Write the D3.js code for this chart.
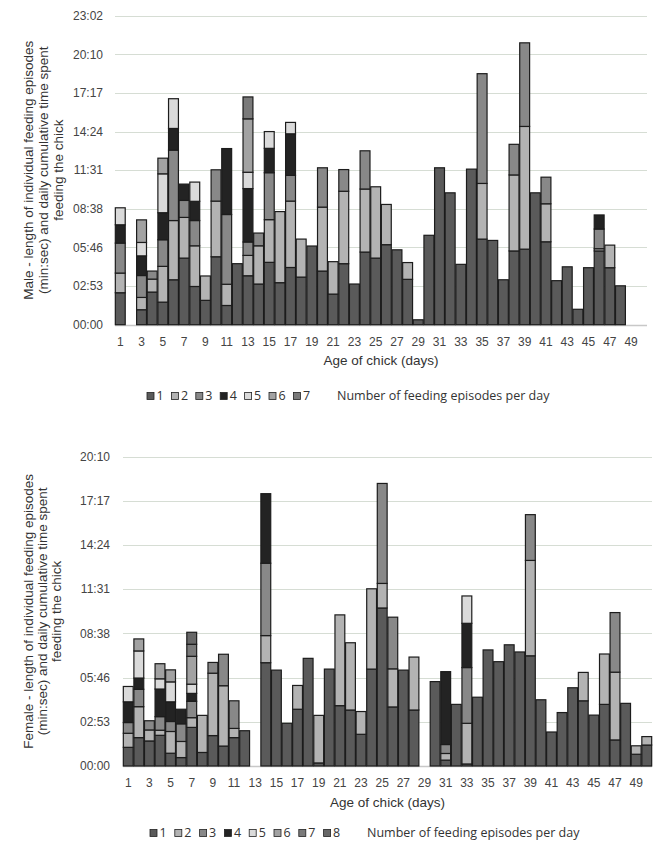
<!DOCTYPE html>
<html>
<head>
<meta charset="utf-8">
<script src="https://cdn.jsdelivr.net/npm/d3@7"></script>
<style>
  body { margin: 0; background: #fff; }
  svg { display: block; font-family: "Liberation Sans", Arial, sans-serif; }
</style>
</head>
<body>
<svg id="chart" width="653" height="845"></svg>
<script>
// days of chick age (categories on the x axis)
const days = [1,2,3,4,5,6,7,8,9,10,11,12,13,14,15,16,17,18,19,20,21,22,23,24,25,
              26,27,28,29,30,31,32,33,34,35,36,37,38,39,40,41,42,43,44,45,46,47,48,49,50];
const dayLabels = [1,3,5,7,9,11,13,15,17,19,21,23,25,27,29,31,33,35,37,39,41,43,45,47,49];

// male: length (seconds) of feeding episode n, per day
const maleEp1 = [143,0,67,146,101,201,298,171,109,304,86,273,219,182,279,188,256,213,352,240,
                 137,273,182,325,298,358,335,203,22,400,702,590,270,696,383,377,201,330,338,590,
                 371,197,259,69,255,330,255,174,0,0];
const maleEp2 = [88,0,55,58,160,265,182,182,109,249,95,0,91,171,191,318,297,170,0,286,
                 145,324,0,282,319,180,0,75,0,0,0,0,0,0,249,0,0,340,549,0,
                 170,0,0,0,0,10,101,0,0,0];
const maleEp3 = [134,0,98,36,119,315,76,113,0,140,312,0,60,57,210,0,115,0,0,176,
                 0,97,0,171,0,0,0,0,0,0,0,0,0,0,491,0,0,137,374,0,
                 119,0,0,0,0,88,0,0,0,0];
const maleEp4 = [82,0,88,0,121,97,73,86,0,0,295,0,239,0,109,0,186,0,0,0,
                 0,0,0,0,0,0,0,0,0,0,0,0,0,0,0,0,0,0,0,0,
                 0,0,0,0,0,63,0,0,0,0];
const maleEp5 = [76,0,60,0,174,133,0,86,0,0,0,0,73,0,75,0,51,0,0,0,
                 0,0,0,0,0,0,0,0,0,0,0,0,0,0,0,0,0,0,0,0,
                 0,0,0,0,0,0,0,0,0,0];
const maleEp6 = [0,0,101,0,70,0,0,0,0,0,0,0,239,0,0,0,0,0,0,0,
                 0,0,0,0,0,0,0,0,0,0,0,0,0,0,0,0,0,0,0,0,
                 0,0,0,0,0,0,0,0,0,0];
const maleEp7 = [0,0,0,0,0,0,0,0,0,0,0,0,98,0,0,0,0,0,0,0,
                 0,0,0,0,0,0,0,0,0,0,0,0,0,0,0,0,0,0,0,0,
                 0,0,0,0,0,0,0,0,0,0];

// female: length (seconds) of feeding episode n, per day
const femEp1 = [73,111,98,120,50,33,151,53,119,78,111,138,0,404,375,167,222,421,12,379,
                236,219,124,379,618,231,375,219,0,330,23,241,8,269,454,408,474,446,431,259,
                133,209,306,255,199,241,102,245,46,82];
const femEp2 = [55,121,43,20,85,63,38,145,244,236,36,0,0,106,0,0,93,0,186,0,
                355,263,89,314,96,149,0,207,0,0,26,0,159,0,0,0,0,0,373,0,
                0,0,0,111,0,197,265,0,33,33];
const femEp3 = [42,68,36,53,39,69,64,0,42,123,108,0,0,283,0,0,0,0,0,0,
                0,0,0,0,391,202,0,0,0,0,35,0,218,0,0,0,0,0,179,0,
                0,0,0,0,0,0,233,0,0,0];
const femEp4 = [81,44,0,108,77,57,31,0,0,0,0,0,0,272,0,0,0,0,0,0,
                0,0,0,0,0,0,0,0,0,0,285,0,173,0,0,0,0,0,0,0,
                0,0,0,0,0,0,0,0,0,0];
const femEp5 = [60,106,0,40,78,0,36,0,0,0,0,0,0,0,0,0,0,0,0,0,
                0,0,0,0,0,0,0,0,0,0,0,0,107,0,0,0,0,0,0,0,
                0,0,0,0,0,0,0,0,0,0];
const femEp6 = [0,47,0,59,47,0,109,0,0,0,0,0,0,0,0,0,0,0,0,0,
                0,0,0,0,0,0,0,0,0,0,0,0,0,0,0,0,0,0,0,0,
                0,0,0,0,0,0,0,0,0,0];
const femEp7 = [0,0,0,0,0,0,47,0,0,0,0,0,0,0,0,0,0,0,0,0,
                0,0,0,0,0,0,0,0,0,0,0,0,0,0,0,0,0,0,0,0,
                0,0,0,0,0,0,0,0,0,0];
const femEp8 = [0,0,0,0,0,0,47,0,0,0,0,0,0,0,0,0,0,0,0,0,
                0,0,0,0,0,0,0,0,0,0,0,0,0,0,0,0,0,0,0,0,
                0,0,0,0,0,0,0,0,0,0];

// y ticks: Excel time axis, major unit 0.002 day = 172.8 s
const maleTicks = [0,172.8,345.6,518.4,691.2,864,1036.8,1209.6,1382.4];
const maleTickLabels = ["00:00","02:53","05:46","08:38","11:31","14:24","17:17","20:10","23:02"];
const femTicks = [0,172.8,345.6,518.4,691.2,864,1036.8,1209.6];
const femTickLabels = ["00:00","02:53","05:46","08:38","11:31","14:24","17:17","20:10"];

const episodeColors = ["#5a5a5a","#b3b3b3","#888888","#232323","#dadada","#a2a2a2","#7a7a7a","#676767"];

const svg = d3.select("#chart");

function drawPanel(cfg) {
  const g = svg.append("g");
  const keys = cfg.series.map((s, i) => "e" + (i + 1));
  const table = days.map((d, i) => {
    const row = { day: d };
    cfg.series.forEach((s, k) => row[keys[k]] = s[i]);
    return row;
  });

  const x = d3.scaleBand().domain(days).range([cfg.left, cfg.right]).paddingInner(0.07).paddingOuter(0.03);
  const y = d3.scaleLinear().domain([0, d3.max(cfg.ticks)]).range([cfg.bottom, cfg.top]);

  // gridlines
  g.selectAll("line.grid")
    .data(cfg.ticks)
    .enter().append("line")
    .attr("class", "grid")
    .attr("x1", cfg.left).attr("x2", cfg.right)
    .attr("y1", d => Math.round(y(d)) + 0.5).attr("y2", d => Math.round(y(d)) + 0.5)
    .attr("stroke", d => d === 0 ? "#c8c8c8" : "#d6ddd4")
    .attr("stroke-width", d => d === 0 ? 1.5 : 1.2);

  // y tick labels
  g.selectAll("text.ytick")
    .data(cfg.ticks)
    .enter().append("text")
    .attr("x", cfg.labelX)
    .attr("y", d => y(d))
    .attr("dy", "0.35em")
    .attr("text-anchor", "end")
    .attr("font-size", 12)
    .attr("fill", "#444")
    .text((d, i) => cfg.tickLabels[i]);

  // stacked bars
  const stacked = d3.stack().keys(keys)(table);
  const layers = g.selectAll("g.layer")
    .data(stacked)
    .enter().append("g")
    .attr("fill", (d, i) => episodeColors[i]);

  layers.selectAll("rect")
    .data(d => d.filter(p => p[1] - p[0] > 0))
    .enter().append("rect")
    .attr("x", d => x(d.data.day))
    .attr("width", x.bandwidth())
    .attr("y", d => y(d[1]))
    .attr("height", d => y(d[0]) - y(d[1]))
    .attr("stroke", "#1c1c1c")
    .attr("stroke-width", 1.2);

  // x labels (odd days)
  g.selectAll("text.xtick")
    .data(dayLabels)
    .enter().append("text")
    .attr("x", d => x(d) + x.bandwidth() / 2)
    .attr("y", cfg.bottom + 17)
    .attr("dy", "0.35em")
    .attr("text-anchor", "middle")
    .attr("font-size", 12)
    .attr("fill", "#444")
    .text(d => d);

  g.append("text")
    .attr("x", (cfg.left + cfg.right) / 2)
    .attr("y", cfg.bottom + 36)
    .attr("dy", "0.35em")
    .attr("text-anchor", "middle")
    .attr("font-size", 13.5)
    .attr("fill", "#333")
    .text("Age of chick (days)");

  // y axis title, three lines, rotated
  const midY = (cfg.top + cfg.bottom) / 2;
  cfg.titleLines.forEach((t, i) => {
    g.append("text")
      .attr("transform", `translate(${cfg.titleX[i]},${midY}) rotate(-90)`)
      .attr("text-anchor", "middle")
      .attr("dy", "0.35em")
      .attr("font-size", 13.5)
      .attr("fill", "#333")
      .text(t);
  });

  // legend
  const leg = g.append("g").attr("font-family", "'Open Sans', sans-serif");
  cfg.series.forEach((s, i) => {
    const lx = cfg.legendX + i * cfg.legendStep;
    leg.append("rect")
      .attr("x", lx).attr("y", cfg.legendY - 3.5)
      .attr("width", 7).attr("height", 7)
      .attr("fill", episodeColors[i])
      .attr("stroke", "#222").attr("stroke-width", 0.8);
    leg.append("text")
      .attr("x", lx + 9.5).attr("y", cfg.legendY)
      .attr("dy", "0.35em")
      .attr("font-size", 12.5)
      .attr("fill", "#333")
      .text(i + 1);
  });
  leg.append("text")
    .attr("x", cfg.legendTextX).attr("y", cfg.legendY)
    .attr("dy", "0.35em")
    .attr("font-size", 12.5)
    .attr("fill", "#333")
    .text("Number of feeding episodes per day");
}

drawPanel({
  series: [maleEp1, maleEp2, maleEp3, maleEp4, maleEp5, maleEp6, maleEp7],
  ticks: maleTicks, tickLabels: maleTickLabels,
  left: 115, right: 647, top: 15.7, bottom: 324.7, labelX: 103,
  titleLines: ["Male - length of individual feeding episodes",
               "(min:sec) and daily cumulative time spent",
               "feeding the chick"],
  titleX: [28, 43, 58],
  legendX: 147, legendStep: 24.4, legendY: 396, legendTextX: 337
});

drawPanel({
  series: [femEp1, femEp2, femEp3, femEp4, femEp5, femEp6, femEp7, femEp8],
  ticks: femTicks, tickLabels: femTickLabels,
  left: 123, right: 652, top: 456.7, bottom: 766, labelX: 110,
  titleLines: ["Female - length of individual feeding episodes",
               "(min:sec) and daily cumulative time spent",
               "feeding the chick"],
  titleX: [28, 42, 56],
  legendX: 150, legendStep: 24.8, legendY: 833, legendTextX: 367
});
</script>
</body>
</html>
